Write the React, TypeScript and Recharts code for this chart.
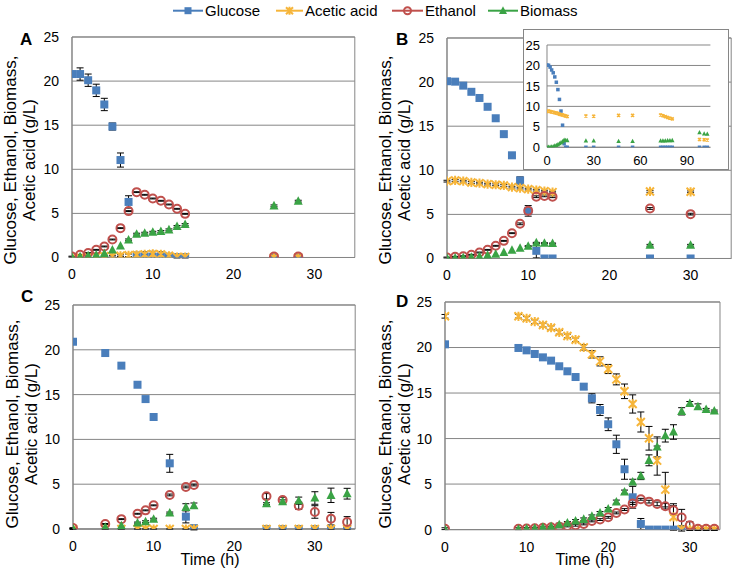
import React from 'react';
import { ScatterChart, Scatter, XAxis, YAxis, CartesianGrid, ErrorBar, ReferenceArea } from 'recharts';

const FONT = '"Liberation Sans", Arial, sans-serif';
const GRID = '#868686';
const C_GLU = '#4A7EBB';
const C_ACE = '#F6B53A';
const C_ETH = '#C0504D';
const C_BIO = '#3AA345';

const seriesNames = ['Glucose', 'Acetic acid', 'Ethanol', 'Biomass'];
const yTicks = [0, 5, 10, 15, 20, 25];
const xTicks = [0, 10, 20, 30];
const insetXTicks = [0, 30, 60, 90];

// Panel A
const timeA = [0, 1, 2, 3, 4, 5, 6, 7, 8, 9, 10, 11, 12, 13, 14, 25, 28];
const gluA = [20.8, 20.8, 20.1, 18.95, 17.35, 14.85, 11.05, 6.3, 0.1, 0.1, 0.1, 0.1, 0.1, 0.05, 0.05, 0, 0];
const gluErrA = [0, 0.7, 0.7, 0.7, 0.7, 0.4, 0.8, 0.7, 0, 0, 0, 0, 0, 0, 0, 0, 0];
const aceA = [0, 0, 0.05, 0.1, 0.15, 0.15, 0.2, 0.25, 0.3, 0.35, 0.4, 0.35, 0.2, 0.05, 0.05, 0, 0];
const aceErrA = [0, 0, 0, 0, 0.1, 0.1, 0.1, 0.15, 0.3, 0.3, 0.3, 0.3, 0.2, 0.1, 0.1, 0, 0];
const ethA = [0.1, 0.3, 0.5, 0.87, 1.25, 2.04, 3.33, 5.26, 7.41, 7.11, 6.69, 6.43, 6.01, 5.52, 4.95, 0.1, 0.1];
const ethErrA = [0.05, 0.05, 0.05, 0.05, 0.05, 0.05, 0.05, 0.05, 0.05, 0.05, 0.05, 0.05, 0.05, 0.05, 0.05, 0.05, 0.05];
const bioA = [0.05, 0.1, 0.2, 0.3, 0.45, 0.85, 1.32, 2.0, 2.65, 2.76, 2.87, 2.95, 3.14, 3.52, 3.74, 5.86, 6.39];
const bioErrA = [0, 0, 0, 0, 0, 0, 0, 0.1, 0.1, 0.1, 0.1, 0.1, 0.1, 0.1, 0.1, 0.1, 0.1];

// Panel B
const timeB = [0, 1, 2, 3, 4, 5, 6, 7, 8, 9, 10, 11, 12, 13, 25, 30];
const gluB = [20.1, 20.05, 19.6, 18.9, 18.2, 17.2, 15.9, 14.1, 11.7, 8.85, 5.4, 0.87, 0, 0, 0, 0];
const gluErrB = [0, 0, 0, 0, 0, 0, 0, 0, 0, 0.4, 0.6, 0.8, 0, 0, 0, 0];
const aceB = [8.77, 8.85, 8.77, 8.62, 8.55, 8.43, 8.36, 8.28, 8.09, 7.98, 7.87, 7.75, 7.64, 7.53, 7.6, 7.56];
const aceErrB = [0.1, 0.1, 0.1, 0.1, 0.1, 0.1, 0.1, 0.1, 0.1, 0.1, 0.1, 0.1, 0.1, 0.1, 0.1, 0.1];
const ethB = [0.11, 0.19, 0.26, 0.42, 0.68, 0.98, 1.44, 2.0, 2.87, 3.93, 5.4, 7.0, 7.1, 7.0, 5.67, 5.03];
const ethErrB = [0.05, 0.05, 0.05, 0.05, 0.05, 0.05, 0.05, 0.05, 0.05, 0.1, 0.3, 0.1, 0.1, 0.1, 0.1, 0.1];
const bioB = [0.05, 0.05, 0.1, 0.15, 0.22, 0.38, 0.49, 0.68, 0.95, 1.17, 1.4, 1.78, 1.74, 1.7, 1.5, 1.5];
const bioErrB = [0, 0, 0, 0, 0, 0, 0, 0, 0, 0, 0.05, 0.05, 0.05, 0.05, 0.1, 0.1];

// Panel B inset (long run)
const timeIn = [0, 1, 2, 3, 4, 5, 6, 7, 8, 9, 10, 11, 12, 13, 25, 30, 46, 55, 73, 74.5, 76, 77.5, 79, 80.5, 98, 101, 103];
const gluIn = [20.1, 20.05, 19.6, 18.9, 18.2, 17.2, 15.9, 14.1, 11.7, 8.85, 5.4, 0.87, 0, 0, 0, 0, 0, 0, 0, 0, 0, 0, 0, 0, 0, 0, 0];
const aceIn = [8.77, 8.85, 8.77, 8.62, 8.55, 8.43, 8.36, 8.28, 8.09, 7.98, 7.87, 7.75, 7.64, 7.53, 7.65, 7.57, 7.8, 7.8, 7.9, 7.7, 7.5, 7.3, 7.1, 6.95, 1.9, 1.85, 1.8];
const bioIn = [0.05, 0.05, 0.1, 0.15, 0.22, 0.38, 0.49, 0.68, 0.95, 1.17, 1.4, 1.78, 1.74, 1.7, 1.6, 1.6, 1.5, 1.5, 1.6, 1.6, 1.6, 1.65, 1.65, 1.7, 3.6, 3.3, 3.25];

// Panel C
const timeC = [0, 4, 6, 8, 9, 10, 12, 14, 15, 24, 26, 28, 30, 32, 34];
const gluC = [20.9, 19.64, 18.23, 16.1, 14.5, 12.5, 7.33, 1.38, 0.1, 0, 0, 0, 0, 0, 0];
const gluErrC = [0, 0, 0, 0, 0, 0, 1.0, 0.7, 0.2, 0, 0, 0, 0, 0, 0];
const aceC = [0, 0, 0, 0, 0, 0, 0, 0, 0, 0, 0, 0, 0, 0, 0];
const aceErrC = [0.05, 0.05, 0.05, 0.05, 0.05, 0.05, 0.05, 0.05, 0.05, 0.05, 0.05, 0.05, 0.05, 0.05, 0.05];
const ethC = [0.1, 0.56, 1.1, 1.7, 2.08, 2.64, 3.8, 4.69, 4.91, 3.65, 3.24, 2.6, 1.9, 1.15, 0.78];
const ethErrC = [0.05, 0.05, 0.05, 0.05, 0.05, 0.05, 0.1, 0.1, 0.1, 0.3, 0.3, 0.4, 0.7, 0.7, 0.6];
const bioC = [0.05, 0.2, 0.37, 0.67, 0.82, 1.1, 1.79, 2.42, 2.6, 2.83, 3.05, 3.16, 3.46, 3.76, 3.94];
const bioErrC = [0, 0, 0, 0.1, 0.1, 0.1, 0.1, 0.4, 0.3, 0.1, 0.2, 0.4, 0.7, 0.8, 0.6];

// Panel D
const timeD = [0, 9, 10, 11, 12, 13, 14, 15, 16, 17, 18, 19, 20, 21, 22, 23, 24, 25, 26, 27, 28, 29, 30, 31, 32, 33];
const gluD = [20.35, 19.95, 19.69, 19.29, 18.92, 18.56, 17.94, 17.39, 16.76, 15.7, 14.42, 13.14, 11.57, 9.37, 6.63, 3.55, 0.62, 0, 0, 0, 0, 0, null, null, null, null];
const gluErrD = [0, 0, 0, 0, 0, 0, 0, 0, 0, 0.3, 0.5, 0.6, 0.7, 1.0, 1.1, 1.2, 0.6, 0, 0, 0, 0, 0, 0, 0, 0, 0];
const aceD = [23.43, 23.43, 23.2, 22.84, 22.47, 22.18, 21.67, 21.27, 20.86, 20.02, 19.25, 18.48, 17.64, 16.5, 15.19, 13.8, 11.82, 10.03, 7.58, 4.39, 1.39, 0.04, 0, 0, 0, 0];
const aceErrD = [0.2, 0.2, 0.2, 0.2, 0.2, 0.2, 0.2, 0.2, 0.2, 0.3, 0.4, 0.5, 0.5, 0.6, 0.8, 1.0, 1.1, 1.3, 1.6, 1.9, 1.45, 0.2, 0.1, 0.1, 0.1, 0.1];
const ethD = [0.1, 0.1, 0.12, 0.15, 0.2, 0.25, 0.3, 0.4, 0.48, 0.62, 0.95, 1.1, 1.35, 1.83, 2.2, 2.86, 3.33, 3.07, 2.82, 2.56, 2.12, 1.32, 0.48, 0.1, 0.1, 0.1];
const ethErrD = [0.1, 0.1, 0.1, 0.1, 0.1, 0.1, 0.1, 0.1, 0.1, 0.1, 0.1, 0.1, 0.1, 0.1, 0.1, 0.1, 0.1, 0.15, 0.2, 0.3, 0.5, 0.9, 0.4, 0.1, 0.1, 0.1];
const bioD = [0.05, 0.05, 0.1, 0.15, 0.25, 0.35, 0.55, 0.73, 0.95, 1.13, 1.46, 1.83, 2.27, 3.04, 4.14, 5.23, 5.89, 7.61, 9.08, 10.32, 10.72, 12.99, 13.87, 13.51, 13.21, 13.03];
const bioErrD = [0, 0, 0, 0, 0, 0, 0.15, 0.15, 0.15, 0.15, 0.15, 0.15, 0.15, 0.2, 0.2, 0.3, 0.4, 0.6, 1.1, 0.7, 0.8, 0.4, 0.2, 0.3, 0.1, 0.1];

type Pt = { x: number; y: number; e: number };
const pts = (t: number[], v: (number | null)[], e?: number[]): Pt[] =>
  t.flatMap((x, i) => (v[i] === null ? [] : [{ x, y: v[i] as number, e: e ? e[i] : 0 }]));

const squareShape = (s: number) => (p: any) => (
  <rect x={p.cx - s / 2} y={p.cy - s / 2} width={s} height={s} fill={C_GLU} />
);
const starShape = (s: number, w: number) => (p: any) => {
  const h = s / 2;
  const { cx, cy } = p;
  return (
    <path
      d={`M${cx - h},${cy - h}L${cx + h},${cy + h}M${cx + h},${cy - h}L${cx - h},${cy + h}M${cx},${cy - h * 1.15}L${cx},${cy + h * 1.15}`}
      stroke={C_ACE}
      strokeWidth={w}
      fill="none"
    />
  );
};
const circleShape = (r: number) => (p: any) => (
  <circle cx={p.cx} cy={p.cy} r={r} stroke={C_ETH} strokeWidth={2} fill="none" />
);
const triShape = (s: number) => (p: any) => (
  <path
    d={`M${p.cx},${p.cy - s * 0.55}L${p.cx + s / 2},${p.cy + s * 0.4}L${p.cx - s / 2},${p.cy + s * 0.4}Z`}
    fill={C_BIO}
  />
);

const tickStyle = { fill: '#000', fontSize: 14, fontFamily: FONT };

type Box = { x0: number; x1: number; y0: number; y1: number };

function Panel({ box, xMax, glu, ace, eth, bio }: { box: Box; xMax: number; glu: Pt[]; ace: Pt[]; eth: Pt[]; bio: Pt[] }) {
  const yW = 60;
  const mTop = 10;
  const mRight = 6;
  const xH = 30;
  const pw = box.x1 - box.x0;
  const ph = box.y1 - box.y0;
  const err = <ErrorBar dataKey="e" direction="y" width={3.5} stroke="#000" strokeWidth={1} />;
  return (
    <div style={{ position: 'absolute', left: box.x0 - yW, top: box.y0 - mTop }}>
      <ScatterChart width={yW + pw + mRight} height={mTop + ph + xH} margin={{ top: mTop, right: mRight, bottom: 0, left: 0 }}>
        <CartesianGrid vertical={false} stroke={GRID} />
        <XAxis type="number" dataKey="x" domain={[0, xMax]} ticks={xTicks} interval={0} allowDataOverflow
          axisLine={{ stroke: GRID }} tickLine={false} tickSize={0} tickMargin={12} height={xH} tick={tickStyle} />
        <YAxis type="number" dataKey="y" domain={[0, 25]} ticks={yTicks} interval={0} allowDataOverflow width={yW}
          axisLine={{ stroke: GRID }} tickLine={false} tickSize={0} tickMargin={13} tick={tickStyle} />
        <ReferenceArea x1={0} x2={xMax} y1={0} y2={25} fill="none" stroke={GRID} strokeOpacity={1} fillOpacity={0} />
        <Scatter name={seriesNames[0]} data={glu} shape={squareShape(8)} isAnimationActive={false}>{err}</Scatter>
        <Scatter name={seriesNames[1]} data={ace} shape={starShape(8, 2)} isAnimationActive={false}>{err}</Scatter>
        <Scatter name={seriesNames[2]} data={eth} shape={circleShape(4)} isAnimationActive={false}>{err}</Scatter>
        <Scatter name={seriesNames[3]} data={bio} shape={triShape(9)} isAnimationActive={false}>{err}</Scatter>
      </ScatterChart>
    </div>
  );
}

function Inset() {
  const box = { x0: 547.3, x1: 710.7, y0: 45, y1: 147.3 };
  const yW = 22;
  const mTop = 8;
  const mRight = 8;
  const xH = 22;
  const small = { fill: '#000', fontSize: 13, fontFamily: FONT };
  return (
    <>
      <div style={{ position: 'absolute', left: 523, top: 29, width: 206, height: 141, border: `1.5px solid ${GRID}`, background: '#fff', boxSizing: 'border-box' }} />
      <div style={{ position: 'absolute', left: box.x0 - yW, top: box.y0 - mTop }}>
        <ScatterChart width={yW + box.x1 - box.x0 + mRight} height={mTop + box.y1 - box.y0 + xH} margin={{ top: mTop, right: mRight, bottom: 0, left: 0 }}>
          <CartesianGrid vertical={false} stroke={GRID} />
          <XAxis type="number" dataKey="x" domain={[0, 105]} ticks={insetXTicks} interval={0} allowDataOverflow
            axisLine={{ stroke: GRID }} tickLine={false} tickSize={0} tickMargin={8} height={xH} tick={small} />
          <YAxis type="number" dataKey="y" domain={[0, 25]} ticks={yTicks} interval={0} allowDataOverflow width={yW}
            axisLine={{ stroke: GRID }} tickLine={false} tickSize={0} tickMargin={7} tick={small} />
          <Scatter name={seriesNames[0]} data={pts(timeIn, gluIn)} shape={squareShape(3.5)} isAnimationActive={false} />
          <Scatter name={seriesNames[1]} data={pts(timeIn, aceIn)} shape={starShape(3, 1.5)} isAnimationActive={false} />
          <Scatter name={seriesNames[3]} data={pts(timeIn, bioIn)} shape={triShape(4.5)} isAnimationActive={false} />
        </ScatterChart>
      </div>
    </>
  );
}

function YLabel({ x, cy }: { x: number; cy: number }) {
  return (
    <g fontFamily={FONT} fontSize={17} fill="#000" textAnchor="middle">
      <text x={x} y={cy} transform={`rotate(-90 ${x} ${cy})`} dominantBaseline="central">Glucose, Ethanol, Biomass,</text>
      <text x={x + 19.5} y={cy} transform={`rotate(-90 ${x + 19.5} ${cy})`} dominantBaseline="central">Acetic acid (g/L)</text>
    </g>
  );
}

function LegendItem({ x0, x1, kind, label }: { x0: number; x1: number; kind: number; label: string }) {
  const cx = (x0 + x1) / 2;
  const cy = 10.7;
  const colors = [C_GLU, C_ACE, C_ETH, C_BIO];
  const p = { cx, cy };
  const marker = [squareShape(7)(p), starShape(7, 2)(p), circleShape(3.5)(p), triShape(8)(p)][kind];
  return (
    <g>
      <line x1={x0} x2={x1} y1={cy} y2={cy} stroke={colors[kind]} strokeWidth={2} />
      {marker}
      <text x={x1 + 2} y={16} fontFamily={FONT} fontSize={15} fill="#000">{label}</text>
    </g>
  );
}

export default function App() {
  return (
    <div style={{ position: 'absolute', left: 0, top: 0, width: 735, height: 574, background: '#fff', overflow: 'hidden' }}>
      <Panel box={{ x0: 71.5, x1: 354.3, y0: 37, y1: 257.5 }} xMax={35}
        glu={pts(timeA, gluA, gluErrA)} ace={pts(timeA, aceA, aceErrA)} eth={pts(timeA, ethA, ethErrA)} bio={pts(timeA, bioA, bioErrA)} />
      <Panel box={{ x0: 446.5, x1: 730.7, y0: 37.5, y1: 258 }} xMax={35}
        glu={pts(timeB, gluB, gluErrB)} ace={pts(timeB, aceB, aceErrB)} eth={pts(timeB, ethB, ethErrB)} bio={pts(timeB, bioB, bioErrB)} />
      <Inset />
      <Panel box={{ x0: 73.3, x1: 355.5, y0: 305.3, y1: 529.3 }} xMax={35}
        glu={pts(timeC, gluC, gluErrC)} ace={pts(timeC, aceC, aceErrC)} eth={pts(timeC, ethC, ethErrC)} bio={pts(timeC, bioC, bioErrC)} />
      <Panel box={{ x0: 445, x1: 720, y0: 301.7, y1: 529.3 }} xMax={33.7}
        glu={pts(timeD, gluD, gluErrD)} ace={pts(timeD, aceD, aceErrD)} eth={pts(timeD, ethD, ethErrD)} bio={pts(timeD, bioD, bioErrD)} />
      <svg width={735} height={574} style={{ position: 'absolute', left: 0, top: 0, pointerEvents: 'none' }}>
        <LegendItem x0={173} x1={203} kind={0} label={seriesNames[0]} />
        <LegendItem x0={276} x1={303} kind={1} label={seriesNames[1]} />
        <LegendItem x0={392} x1={423} kind={2} label={seriesNames[2]} />
        <LegendItem x0={488} x1={518} kind={3} label={seriesNames[3]} />
        <g fontFamily={FONT} fontSize={17} fontWeight="bold" fill="#000">
          <text x={20} y={45}>A</text>
          <text x={396} y={45}>B</text>
          <text x={21} y={302}>C</text>
          <text x={396} y={307}>D</text>
        </g>
        <YLabel x={10} cy={160} />
        <YLabel x={385} cy={160} />
        <YLabel x={12} cy={424} />
        <YLabel x={385} cy={424} />
        <g fontFamily={FONT} fontSize={16} fill="#000" textAnchor="middle">
          <text x={210} y={565}>Time (h)</text>
          <text x={585} y={565}>Time (h)</text>
        </g>
      </svg>
    </div>
  );
}
